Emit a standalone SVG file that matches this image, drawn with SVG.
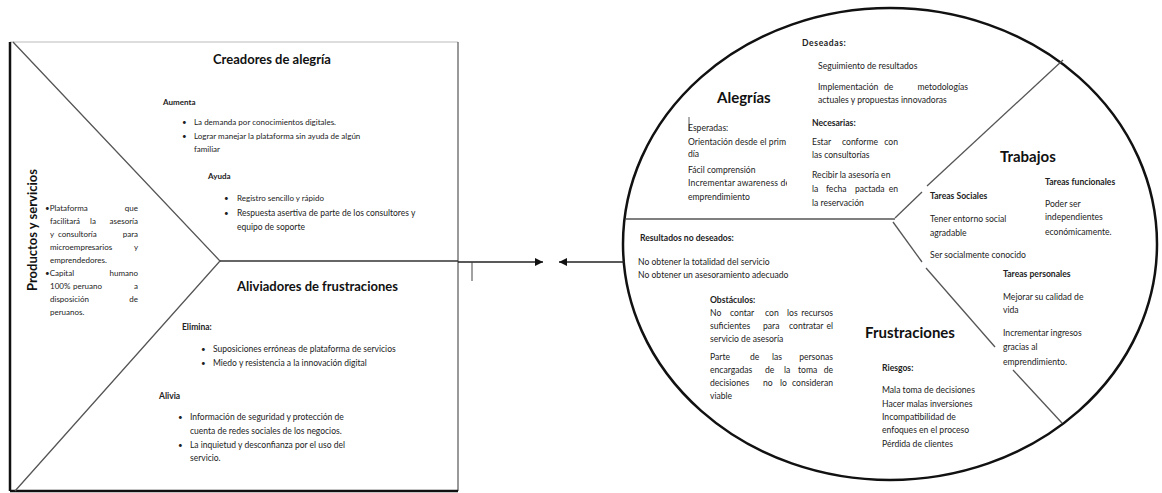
<svg xmlns="http://www.w3.org/2000/svg" width="1162" height="493" viewBox="0 0 1162 493">
<style>
.t{font-family:Lato,"Open Sans",sans-serif;font-size:8px;fill:#222}
.m{font-size:8.5px}
.r{font-size:8.6px}
.b{font-weight:bold}
.h{font-family:Lato,"Open Sans",sans-serif;font-size:13px;font-weight:bold;fill:#111}
.hr{font-family:Lato,"Open Sans",sans-serif;font-size:15px;font-weight:bold;fill:#111}
.ln{stroke:#555;stroke-width:1.3;fill:none}
.e{text-anchor:end}
</style>
<defs>
<marker id="ah" viewBox="0 0 10 10" refX="10" refY="5" markerWidth="8" markerHeight="8" markerUnits="userSpaceOnUse" orient="auto">
<path d="M0,0 L10,5 L0,10 z" fill="#111"/>
</marker>
<clipPath id="cl"><rect x="680" y="110" width="107" height="100"/></clipPath>
</defs>
<rect width="1162" height="493" fill="#fff"/>

<g id="value-map">
<line x1="10" y1="42" x2="458" y2="42" stroke="#bbb" stroke-width="1"/>
<line x1="458" y1="42" x2="458" y2="491" stroke="#555" stroke-width="1.2"/>
<line x1="10" y1="42" x2="10" y2="491" stroke="#111" stroke-width="2.5"/>
<line x1="10" y1="491" x2="458" y2="491" stroke="#111" stroke-width="2.5"/>
<polyline class="ln" points="13,42 220,261 15,491"/>
<line x1="220" y1="261" x2="458" y2="261" stroke="#333" stroke-width="1.4"/>
</g>

<g id="productos">
<text class="h" transform="translate(37,230) rotate(-90)" text-anchor="middle" font-size="12.5">Productos y servicios</text>
<text class="t" x="45" y="211">•Plataforma</text><text class="t e" x="138" y="211">que</text>
<text class="t" x="50" y="224">facilitará</text><text class="t" x="90" y="224">la</text><text class="t e" x="138" y="224">asesoría</text>
<text class="t" x="50" y="237">y</text><text class="t" x="58" y="237">consultoría</text><text class="t e" x="138" y="237">para</text>
<text class="t" x="50" y="250">microempresarios</text><text class="t e" x="138" y="250">y</text>
<text class="t" x="50" y="263">emprendedores.</text>
<text class="t" x="45" y="276">•Capital</text><text class="t e" x="138" y="276">humano</text>
<text class="t" x="50" y="289">100%</text><text class="t" x="73" y="289">peruano</text><text class="t e" x="138" y="289">a</text>
<text class="t" x="50" y="302">disposición</text><text class="t e" x="138" y="302">de</text>
<text class="t" x="50" y="315">peruanos.</text>
</g>

<g id="creadores">
<text class="h" x="213" y="64">Creadores de alegría</text>
<text class="t b" x="163" y="105">Aumenta</text>
<text class="t" x="182" y="125">•</text><text class="t" x="194" y="125">La demanda por conocimientos digitales.</text>
<text class="t" x="182" y="139">•</text><text class="t" x="194" y="139">Lograr manejar la plataforma sin ayuda de algún</text>
<text class="t" x="194" y="152">familiar</text>
<text class="t b" x="208" y="179">Ayuda</text>
<text class="t" x="224" y="201">•</text><text class="t" x="237" y="201">Registro sencillo y rápido</text>
<text class="t" x="224" y="216">•</text><text class="t m" x="237" y="216">Respuesta asertiva de parte de los consultores y</text>
<text class="t m" x="237" y="230">equipo de soporte</text>
</g>

<g id="aliviadores">
<text class="h" x="237" y="291">Aliviadores de frustraciones</text>
<text class="t m b" x="182" y="330">Elimina:</text>
<text class="t" x="201" y="352">•</text><text class="t m" x="213" y="352">Suposiciones erróneas de plataforma de servicios</text>
<text class="t" x="201" y="366">•</text><text class="t m" x="213" y="366">Miedo y resistencia a la innovación digital</text>
<text class="t m b" x="159" y="399">Alivia</text>
<text class="t" x="178" y="420">•</text><text class="t m" x="190" y="420">Información de seguridad y protección de</text>
<text class="t m" x="190" y="434">cuenta de redes sociales de los negocios.</text>
<text class="t" x="178" y="448">•</text><text class="t m" x="190" y="448">La inquietud y desconfianza por el uso del</text>
<text class="t m" x="190" y="461">servicio.</text>
</g>

<g id="customer-profile">
<ellipse cx="890" cy="244" rx="267" ry="236" fill="none" stroke="#111" stroke-width="2.5"/>
<line x1="626" y1="219" x2="895" y2="219" stroke="#555" stroke-width="1.5"/>
<line class="ln" x1="895" y1="218" x2="922" y2="192"/>
<line class="ln" x1="927" y1="186" x2="1063" y2="60"/>
<line class="ln" x1="893" y1="222" x2="922" y2="262"/>
<line class="ln" x1="926" y1="268" x2="995" y2="347"/>
<line class="ln" x1="1013" y1="370" x2="1062" y2="423"/>
</g>

<g id="alegrias">
<text class="hr" x="717" y="103">Alegrías</text>
<line x1="689" y1="117" x2="689" y2="131" stroke="#333" stroke-width="0.8"/>
<text class="t r" x="688" y="131">Esperadas:</text>
<text class="t r" x="688" y="145" textLength="98" lengthAdjust="spacing">Orientación desde el prim</text>
<text class="t r" x="688" y="157">día</text>
<text class="t r" x="688" y="173">Fácil comprensión</text>
<g clip-path="url(#cl)">
<text class="t r" x="688" y="186" textLength="102" lengthAdjust="spacing">Incrementar awareness de</text>
</g>
<text class="t r" x="688" y="200">emprendimiento</text>
<text class="t r b" x="802" y="46" letter-spacing="0.6">Deseadas:</text>
<text class="t r" x="818" y="69">Seguimiento de resultados</text>
<text class="t r" x="818" y="90">Implementación</text><text class="t r" x="884" y="90">de</text><text class="t r e" x="968" y="90">metodologías</text>
<text class="t r" x="818" y="103">actuales y propuestas innovadoras</text>
<text class="t r b" x="812" y="126">Necesarias:</text>
<text class="t r" x="812" y="145">Estar</text><text class="t r" x="842" y="145">conforme</text><text class="t r e" x="898" y="145">con</text>
<text class="t r" x="812" y="158">las consultorías</text>
<text class="t r" x="812" y="178">Recibir la asesoría en</text>
<text class="t r" x="812" y="192">la</text><text class="t r" x="826" y="192">fecha</text><text class="t r" x="855" y="192">pactada</text><text class="t r e" x="898" y="192">en</text>
<text class="t r" x="812" y="206">la reservación</text>
</g>

<g id="frustraciones">
<text class="t r b" x="640" y="241">Resultados no deseados:</text>
<text class="t r" x="638" y="265">No obtener la totalidad del servicio</text>
<text class="t r" x="638" y="278">No obtener un asesoramiento adecuado</text>
<text class="t r b" x="710" y="303">Obstáculos:</text>
<text class="t r" x="710" y="316">No</text><text class="t r" x="730" y="316">contar</text><text class="t r" x="765" y="316">con</text><text class="t r" x="787" y="316">los</text><text class="t r e" x="833" y="316">recursos</text>
<text class="t r" x="710" y="329">suficientes</text><text class="t r" x="763" y="329">para</text><text class="t r" x="789" y="329">contratar</text><text class="t r e" x="833" y="329">el</text>
<text class="t r" x="710" y="342">servicio de asesoría</text>
<text class="t r" x="710" y="360">Parte</text><text class="t r" x="750" y="360">de</text><text class="t r" x="772" y="360">las</text><text class="t r e" x="833" y="360">personas</text>
<text class="t r" x="710" y="373">encargadas</text><text class="t r" x="765" y="373">de</text><text class="t r" x="784" y="373">la</text><text class="t r" x="798" y="373">toma</text><text class="t r e" x="833" y="373">de</text>
<text class="t r" x="710" y="386">decisiones</text><text class="t r" x="763" y="386">no</text><text class="t r" x="780" y="386">lo</text><text class="t r e" x="833" y="386">consideran</text>
<text class="t r" x="710" y="399">viable</text>
<text class="hr" x="865" y="338">Frustraciones</text>
<text class="t r b" x="882" y="371">Riesgos:</text>
<text class="t r" x="882" y="393">Mala toma de decisiones</text>
<text class="t r" x="882" y="407">Hacer malas inversiones</text>
<text class="t r" x="882" y="420">Incompatibilidad de</text>
<text class="t r" x="882" y="433">enfoques en el proceso</text>
<text class="t r" x="882" y="447">Pérdida de clientes</text>
</g>

<g id="trabajos">
<text class="hr" x="1000" y="162">Trabajos</text>
<text class="t r b" x="1045" y="185">Tareas funcionales</text>
<text class="t r" x="1045" y="207">Poder ser</text>
<text class="t r" x="1045" y="220">independientes</text>
<text class="t r" x="1045" y="235">económicamente.</text>
<text class="t r b" x="930" y="199">Tareas Sociales</text>
<text class="t r" x="930" y="222">Tener entorno social</text>
<text class="t r" x="930" y="236">agradable</text>
<text class="t r" x="930" y="258">Ser socialmente conocido</text>
<text class="t r b" x="1003" y="277">Tareas personales</text>
<text class="t r" x="1003" y="300">Mejorar su calidad de</text>
<text class="t r" x="1003" y="313">vida</text>
<text class="t r" x="1003" y="336">Incrementar ingresos</text>
<text class="t r" x="1003" y="350">gracias al</text>
<text class="t r" x="1003" y="365">emprendimiento.</text>
</g>

<g id="connectors">
<line x1="458" y1="262" x2="543" y2="262" stroke="#222" stroke-width="1.4" marker-end="url(#ah)"/>
<line x1="625" y1="262" x2="559" y2="262" stroke="#222" stroke-width="1.4" marker-end="url(#ah)"/>
<line x1="472" y1="262" x2="472" y2="281" stroke="#444" stroke-width="1"/>
</g>
</svg>
